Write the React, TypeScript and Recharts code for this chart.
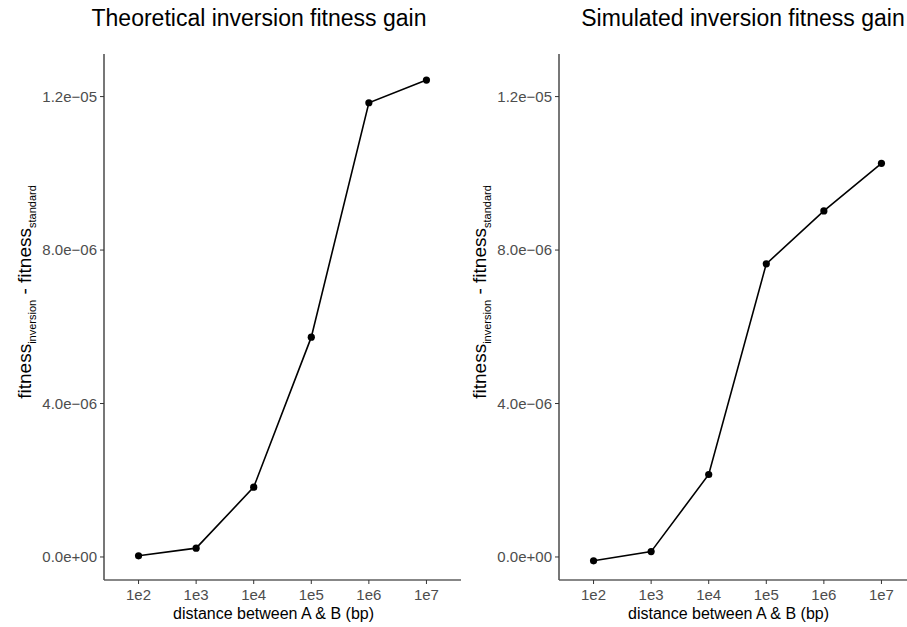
import React from "react";
import { LineChart, Line, XAxis, YAxis } from "recharts";

// distance between A & B, as log10(bp)
const logDistance = [2, 3, 4, 5, 6, 7];
const theoreticalGain = [0.03e-6, 0.23e-6, 1.82e-6, 5.73e-6, 11.84e-6, 12.43e-6];
const simulatedGain = [-0.1e-6, 0.14e-6, 2.15e-6, 7.64e-6, 9.02e-6, 10.26e-6];
const yTicks = [0, 4e-6, 8e-6, 1.2e-5];

const FONT = "'Liberation Sans', Arial, Helvetica, sans-serif";

const toRows = (values: number[]) => logDistance.map((d, i) => ({ d, gain: values[i] }));

// R-style scientific labels: 1.2e-05, 0.0e+00
const sci = (v: number) => {
  if (v === 0) return "0.0e+00";
  const [m, e] = v.toExponential(1).split("e");
  const n = parseInt(e, 10);
  return `${m}e${n < 0 ? "\u2212" : "+"}${String(Math.abs(n)).padStart(2, "0")}`;
};

const YTitle = (props: any) => {
  const vb = props.viewBox;
  const cx = vb.x + 31;
  const cy = vb.y + vb.height / 2 - 25;
  return (
    <text
      x={cx}
      y={cy}
      transform={`rotate(-90, ${cx}, ${cy})`}
      textAnchor="middle"
      fontFamily={FONT}
      fontSize={19}
      fill="#000"
    >
      <tspan>fitness</tspan>
      <tspan fontSize={11} dy={5}>inversion</tspan>
      <tspan dy={-5}> - fitness</tspan>
      <tspan fontSize={11} dy={5}>standard</tspan>
    </text>
  );
};

const XTitle = (props: any) => {
  const vb = props.viewBox;
  return (
    <text
      x={vb.x + vb.width / 2 - 9}
      y={vb.y + 39}
      textAnchor="middle"
      fontFamily={FONT}
      fontSize={16}
      fill="#000"
    >
      distance between A &amp; B (bp)
    </text>
  );
};

function Panel({ values, title, left, titleCenter }: { values: number[]; title: string; left: number; titleCenter: number }) {
  return (
    <div style={{ position: "absolute", left, top: 0 }}>
      <div
        style={{
          position: "absolute",
          left: titleCenter - 250,
          width: 500,
          top: 7,
          textAlign: "center",
          fontFamily: FONT,
          fontSize: 23,
          lineHeight: "23px",
          color: "#000",
          whiteSpace: "nowrap",
        }}
      >
        {title}
      </div>
      <LineChart
        width={462}
        height={627}
        data={toRows(values)}
        margin={{ top: 54, right: 1, bottom: 0, left: 0 }}
      >
        <XAxis
          type="number"
          dataKey="d"
          domain={[1.4, 7.6]}
          ticks={logDistance}
          allowDataOverflow
          tickFormatter={(v: number) => `1e${v}`}
          height={47}
          tickSize={4}
          tickMargin={5}
          tick={{ fill: "#4d4d4d", fontSize: 15, fontFamily: FONT }}
          tickLine={{ stroke: "#333" }}
          axisLine={{ stroke: "#111", strokeWidth: 1.2 }}
          label={{ content: XTitle }}
        />
        <YAxis
          type="number"
          domain={[-0.6e-6, 13.11e-6]}
          ticks={yTicks}
          allowDataOverflow
          tickFormatter={sci}
          width={104}
          tickSize={4}
          tickMargin={3}
          tick={{ fill: "#4d4d4d", fontSize: 15, fontFamily: FONT }}
          tickLine={{ stroke: "#333" }}
          axisLine={{ stroke: "#555", strokeWidth: 1.6 }}
          label={{ content: YTitle }}
        />
        <Line
          type="linear"
          dataKey="gain"
          stroke="#000"
          strokeWidth={1.6}
          dot={{ r: 3.6, fill: "#000", stroke: "#000", strokeWidth: 0 }}
          isAnimationActive={false}
        />
      </LineChart>
    </div>
  );
}

export default function App() {
  return (
    <div
      style={{
        position: "absolute",
        left: 0,
        top: 0,
        width: 907,
        height: 627,
        overflow: "hidden",
        background: "#fff",
      }}
    >
      <Panel values={theoreticalGain} title="Theoretical inversion fitness gain" left={0} titleCenter={259} />
      <Panel values={simulatedGain} title="Simulated inversion fitness gain" left={455} titleCenter={288} />
    </div>
  );
}
